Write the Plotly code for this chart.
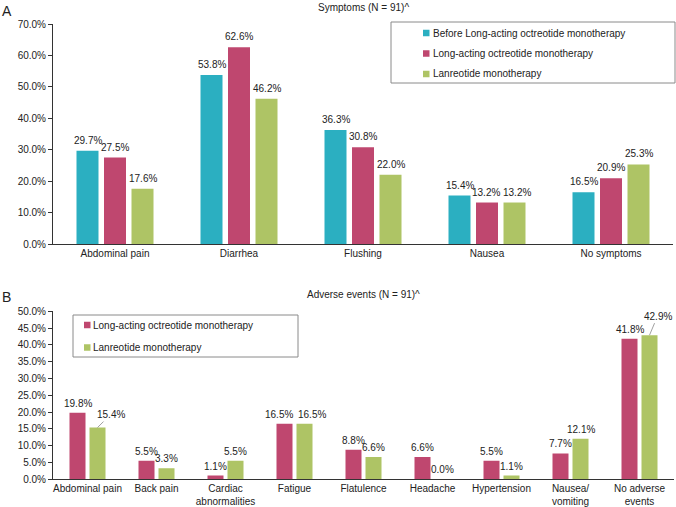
import plotly.graph_objects as go

W, H = 676, 507

# ---------------- data ----------------
symptom_cats = ["Abdominal pain", "Diarrhea", "Flushing", "Nausea", "No symptoms"]
sym_before_lao = [29.7, 53.8, 36.3, 15.4, 16.5]
sym_lao = [27.5, 62.6, 30.8, 13.2, 20.9]
sym_lan = [17.6, 46.2, 22.0, 13.2, 25.3]

ae_cats = ["Abdominal pain", "Back pain", "Cardiac<br>abnormalities", "Fatigue", "Flatulence",
           "Headache", "Hypertension", "Nausea/<br>vomiting", "No adverse<br>events"]
ae_lao = [19.8, 5.5, 1.1, 16.5, 8.8, 6.6, 5.5, 7.7, 41.8]
ae_lan = [15.4, 3.3, 5.5, 16.5, 6.6, 0.0, 1.1, 12.1, 42.9]

name_before = "Before Long-acting octreotide monotherapy"
name_lao = "Long-acting octreotide monotherapy"
name_lan = "Lanreotide monotherapy"
title_a = "Symptoms (N = 91)^"
title_b = "Adverse events (N = 91)^"

# ---------------- style ----------------
C_TEAL = "#2BAFC1"
C_MAG = "#BF476F"
C_GRN = "#AEC465"
FONT = "Liberation Sans, Arial, Helvetica, sans-serif"
TXT = "#222222"

def px(x):
    return x / W

def py(y):
    return 1 - y / H

# plot areas in pixels
A_x0, A_x1, A_y0, A_y1 = 53, 673, 24, 244
B_x0, B_x1, B_y0, B_y1 = 53, 674, 311.3, 479.3

A_cat_px = (A_x1 - A_x0) / len(symptom_cats)
B_cat_px = (B_x1 - B_x0) / len(ae_cats)
A_slot, A_bw = 27.5, 22.0
B_slot, B_bw = 20.0, 16.0

fig = go.Figure()

def add_group(cats, series, colors, names, xa, ya, cat_px, slot, bw):
    n = len(series)
    width = bw / cat_px
    for i, (vals, col, nm) in enumerate(zip(series, colors, names)):
        center = (i - (n - 1) / 2) * slot / cat_px
        fig.add_trace(go.Bar(
            x=cats, y=vals, name=nm, marker=dict(color=col, line=dict(width=0)),
            width=width, offset=center - width / 2, xaxis=xa, yaxis=ya,
            showlegend=False, hoverinfo="x+y"))

add_group(symptom_cats, [sym_before_lao, sym_lao, sym_lan], [C_TEAL, C_MAG, C_GRN],
          [name_before, name_lao, name_lan], "x", "y", A_cat_px, A_slot, A_bw)
add_group(ae_cats, [ae_lao, ae_lan], [C_MAG, C_GRN],
          [name_lao, name_lan], "x2", "y2", B_cat_px, B_slot, B_bw)

annotations = []

def add_labels(cats, series, xref, yref, slot, yshift, arrows=None, nudges=None):
    n = len(series)
    arrows = arrows or {}
    nudges = nudges or {}
    for i, vals in enumerate(series):
        dx = (i - (n - 1) / 2) * slot
        for c, v in zip(cats, vals):
            key = (i, c)
            a = dict(x=c, y=v, xref=xref, yref=yref, text=f"{v:.1f}%",
                     font=dict(size=10, color=TXT, family=FONT),
                     xshift=dx + nudges.get(key, 0))
            if key in arrows:
                ax, ay = arrows[key]
                a.update(showarrow=True, arrowhead=0, arrowwidth=0.8, arrowcolor="#888888",
                         ax=ax, ay=ay, standoff=0)
            else:
                a.update(showarrow=False, yanchor="bottom", yshift=yshift)
            annotations.append(a)

add_labels(symptom_cats, [sym_before_lao, sym_lao, sym_lan], "x", "y", A_slot, 3,
           nudges={(1, "Nausea"): -1, (2, "Nausea"): 2})
add_labels(ae_cats, [ae_lao, ae_lan], "x2", "y2", B_slot, 2,
           arrows={(1, "Abdominal pain"): (13, -13), (1, "No adverse<br>events"): (8, -19)},
           nudges={(0, "Fatigue"): -6, (1, "Fatigue"): 7})

# titles and panel letters
annotations += [
    dict(x=px((A_x0 + A_x1) / 2), y=py(8), xref="paper", yref="paper", text=title_a,
         showarrow=False, font=dict(size=10, color=TXT, family=FONT), yanchor="middle"),
    dict(x=px((B_x0 + B_x1) / 2), y=py(294), xref="paper", yref="paper", text=title_b,
         showarrow=False, font=dict(size=10, color=TXT, family=FONT), yanchor="middle"),
    dict(x=px(0), y=py(11), xref="paper", yref="paper", text="A", xanchor="left",
         showarrow=False, font=dict(size=14, color=TXT, family=FONT), yanchor="middle"),
    dict(x=px(0), y=py(297), xref="paper", yref="paper", text="B", xanchor="left",
         showarrow=False, font=dict(size=14, color=TXT, family=FONT), yanchor="middle"),
]

shapes = []

def add_legend(box, names, colors, sq_x, text_x, y_first, y_step):
    x0, y0, x1, y1 = box
    shapes.append(dict(type="rect", xref="paper", yref="paper",
                       x0=px(x0), x1=px(x1), y0=py(y0), y1=py(y1),
                       line=dict(color="#8a8a8a", width=1), fillcolor="rgba(0,0,0,0)"))
    for k, (nm, col) in enumerate(zip(names, colors)):
        yc = y_first + k * y_step
        shapes.append(dict(type="rect", xref="paper", yref="paper",
                           x0=px(sq_x), x1=px(sq_x + 6.5), y0=py(yc - 3.25), y1=py(yc + 3.25),
                           line=dict(width=0), fillcolor=col))
        annotations.append(dict(x=px(text_x), y=py(yc), xref="paper", yref="paper", text=nm,
                                showarrow=False, xanchor="left", yanchor="middle",
                                font=dict(size=10, color=TXT, family=FONT)))

add_legend((391, 22, 675, 83), [name_before, name_lao, name_lan], [C_TEAL, C_MAG, C_GRN],
           423, 431, 33, 20.5)
add_legend((73, 315, 298, 357), [name_lao, name_lan], [C_MAG, C_GRN], 84, 91, 325, 22.5)

axis_common = dict(showgrid=False, zeroline=False, showline=True, linecolor="#333333",
                   linewidth=1, tickfont=dict(size=10, color=TXT, family=FONT))

fig.update_layout(
    width=W, height=H, margin=dict(l=0, r=0, t=0, b=0),
    paper_bgcolor="white", plot_bgcolor="white",
    font=dict(family=FONT, size=10, color=TXT),
    barmode="group", showlegend=False,
    xaxis=dict(domain=[px(A_x0), px(A_x1)], anchor="y", ticks="", type="category",
               automargin=False, **axis_common),
    yaxis=dict(domain=[py(A_y1), py(A_y0)], anchor="x", range=[0, 70], dtick=10,
               tick0=0, ticksuffix="%", tickformat=".1f", ticks="outside", ticklen=4,
               tickcolor="#333333", automargin=False, **axis_common),
    xaxis2=dict(domain=[px(B_x0), px(B_x1)], anchor="y2", ticks="", type="category",
                automargin=False, **axis_common),
    yaxis2=dict(domain=[py(B_y1), py(B_y0)], anchor="x2", range=[0, 50], dtick=5,
                tick0=0, ticksuffix="%", tickformat=".1f", ticks="outside", ticklen=4,
                tickcolor="#333333", automargin=False, **axis_common),
    annotations=annotations, shapes=shapes,
)

fig.write_html("out.html", config={"displayModeBar": False},
               post_script="document.body.style.margin='0';document.body.style.padding='0';")
